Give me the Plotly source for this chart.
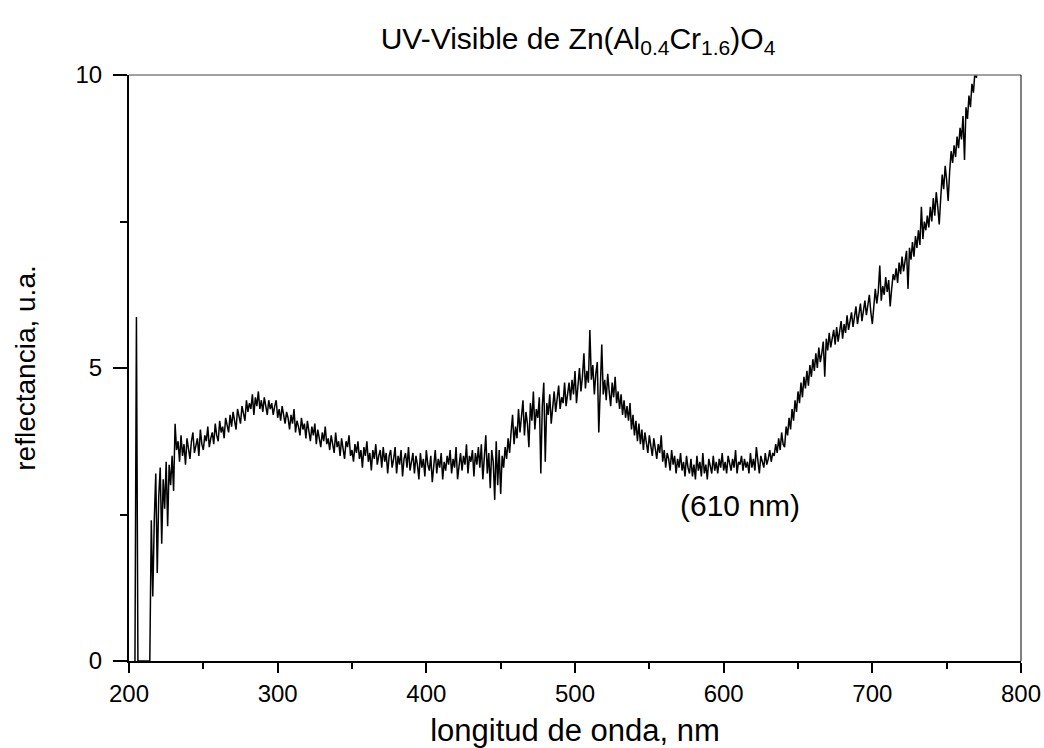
import plotly.graph_objects as go

### data: UV-Vis diffuse reflectance, Zn(Al0.4Cr1.6)O4
# first few points: detector spikes before the real spectrum starts
wl_head = [204, 205, 206, 214, 215]
refl_head = [0.0, 5.87, 0.0, 0.0, 2.4]

# main spectrum, read every 1 nm from 216 nm to 774 nm
wl_main = list(range(216, 775))
refl_main = [
    1.1, 2.4, 3.2, 1.5, 2.8, 3.3, 2.0, 3.1, 2.6, 3.4, 2.3, 3.35, 3.0, 3.5, 2.9, 4.05, 3.6, 3.75, 3.4, 3.85,  # 216
    3.5, 3.7, 3.35, 3.8, 3.6, 3.45, 3.75, 3.9, 3.55, 3.65, 3.8, 3.5, 3.95, 3.7, 3.6, 3.85, 3.75, 4.0, 3.65, 3.8,  # 236
    3.9, 3.7, 4.05, 3.85, 3.75, 4.1, 3.9, 4.0, 3.8, 4.15, 4.05, 3.9, 4.2, 4.0, 4.25, 4.1, 3.95, 4.3, 4.15, 4.05,  # 256
    4.35, 4.2, 4.1, 4.45, 4.25, 4.4, 4.3, 4.55, 4.2, 4.5, 4.35, 4.6, 4.3, 4.45, 4.25, 4.5, 4.35, 4.2, 4.45, 4.3,  # 276
    4.4, 4.2, 4.35, 4.45, 4.15, 4.3, 4.1, 4.35, 4.2, 4.05, 4.25, 4.15, 3.95, 4.2, 4.05, 4.3, 3.9, 4.1, 4.0, 3.85,  # 296
    4.15, 3.95, 4.05, 3.8, 4.1, 3.9, 3.75, 4.0, 3.85, 4.05, 3.7, 3.95, 3.8, 3.65, 3.9, 3.75, 4.0, 3.7, 3.8, 3.6,  # 316
    3.85, 3.7, 3.55, 3.9, 3.65, 3.75, 3.5, 3.8, 3.6, 3.45, 3.75, 3.65, 3.85, 3.5, 3.6, 3.4, 3.7, 3.55, 3.75, 3.45,  # 336
    3.6, 3.3, 3.65, 3.5, 3.75, 3.4, 3.55, 3.25, 3.6, 3.45, 3.7, 3.35, 3.5, 3.6, 3.3, 3.65, 3.4, 3.55, 3.2, 3.5,  # 356
    3.6, 3.3, 3.45, 3.65, 3.2, 3.5, 3.35, 3.6, 3.15, 3.45, 3.55, 3.3, 3.65, 3.25, 3.4, 3.55, 3.2, 3.5, 3.35, 3.1,  # 376
    3.55, 3.3, 3.45, 3.15, 3.6, 3.35, 3.25, 3.5, 3.05, 3.4, 3.6, 3.2, 3.45, 3.3, 3.55, 3.1, 3.4, 3.25, 3.5, 3.35,  # 396
    3.6, 3.2, 3.45, 3.3, 3.65, 3.1, 3.4, 3.55, 3.25, 3.5, 3.35, 3.7, 3.2, 3.5, 3.4, 3.6, 3.15, 3.55, 3.35, 3.65,  # 416
    3.3, 3.7, 3.1, 3.5, 3.85, 3.2, 3.55, 2.95, 3.6, 3.4, 2.75, 3.75, 3.0, 3.6, 2.85, 3.5, 3.3, 3.65, 3.45, 3.8,  # 436
    3.55, 3.9, 4.2, 3.7, 4.0, 3.8, 4.3, 3.9, 4.15, 4.45, 3.85, 4.25, 4.05, 3.65, 4.4, 4.1, 4.6, 3.95, 4.3, 4.15,  # 456
    4.5, 3.2, 4.35, 4.75, 3.4, 4.4, 4.2, 4.55, 4.05, 4.3, 4.6, 4.25, 4.45, 4.7, 4.3, 4.5, 4.4, 4.75, 4.35, 4.6,  # 476
    4.75, 4.45, 4.8, 4.55, 4.95, 4.4, 4.7, 5.0, 4.6, 4.85, 5.25, 4.65, 4.95, 4.75, 5.65, 4.8, 5.05, 4.55, 4.9, 5.1,  # 496
    3.9, 4.7, 5.4, 4.55, 4.8, 4.45, 4.9, 4.6, 4.35, 4.75, 4.5, 4.85, 4.4, 4.6, 4.3, 4.55, 4.2, 4.45, 4.15, 4.35,  # 516
    4.1, 4.4, 3.95, 4.2, 3.85, 4.1, 3.75, 4.05, 3.7, 3.95, 3.6, 3.9, 3.75, 3.55, 3.85, 3.65, 3.5, 3.8, 3.6, 3.45,  # 536
    3.7, 3.55, 3.85, 3.4, 3.6, 3.3, 3.55, 3.45, 3.25, 3.6, 3.35, 3.5, 3.2, 3.45, 3.3, 3.55, 3.25, 3.4, 3.15, 3.5,  # 556
    3.3, 3.2, 3.45, 3.15, 3.35, 3.1, 3.5, 3.25, 3.4, 3.15, 3.55, 3.2, 3.35, 3.1, 3.45, 3.3, 3.2, 3.5, 3.25, 3.4,  # 576
    3.2, 3.45, 3.3, 3.55, 3.25, 3.4, 3.2, 3.5, 3.35, 3.25, 3.45, 3.3, 3.6, 3.2, 3.4, 3.35, 3.5, 3.25, 3.45, 3.3,  # 596
    3.4, 3.2, 3.55, 3.3, 3.45, 3.25, 3.65, 3.35, 3.2, 3.5, 3.4, 3.3, 3.55, 3.35, 3.45, 3.6, 3.4, 3.55, 3.5, 3.7,  # 616
    3.55, 3.8, 3.6, 3.9, 3.7, 3.65, 4.0, 3.85, 4.15, 3.95, 4.3, 4.1, 4.45, 4.25, 4.6, 4.4, 4.75, 4.5, 4.85, 4.65,  # 636
    4.95, 4.7, 5.05, 4.85, 5.15, 4.95, 5.25, 5.0, 5.35, 5.1, 5.25, 5.45, 4.85, 5.5, 5.3, 5.6, 5.35, 5.5, 5.65, 5.4,  # 656
    5.7, 5.45, 5.65, 5.8, 5.5, 5.75, 5.6, 5.9, 5.65, 5.8, 5.95, 5.7, 5.85, 6.05, 5.75, 5.95, 6.1, 5.8, 6.0, 6.15,  # 676
    5.9, 6.1, 6.25, 5.95, 5.75, 6.05, 6.35, 6.1, 6.3, 6.75, 6.15, 6.4, 6.25, 6.55, 6.3, 6.5, 6.05, 6.35, 6.6, 6.5,  # 696
    6.7, 6.45, 6.8, 6.6, 6.9, 6.65, 6.85, 7.0, 6.35, 7.05, 6.85, 7.15, 6.9, 7.25, 7.05, 7.35, 7.1, 7.75, 7.2, 7.5,  # 716
    7.35, 7.6, 7.4, 7.75, 7.5, 7.9, 7.6, 8.0, 7.75, 7.45, 7.9, 8.3, 8.05, 8.45, 8.2, 7.85, 8.35, 8.7, 8.5, 8.8,  # 736
    8.6, 8.95, 8.75, 9.1, 8.9, 9.3, 8.55, 9.45, 9.25, 9.65, 9.45, 9.85, 9.7, 10.05, 9.95, 10.2, 10.1, 10.4, 10.5,  # 756
]

wl = wl_head + wl_main
refl = refl_head + refl_main

x_ticks = [200, 300, 400, 500, 600, 700, 800]
y_ticks = [0, 5, 10]

my_font = dict(family="Liberation Sans, Arial, sans-serif", size=24, color="black")

fig = go.Figure()
fig.add_trace(go.Scatter(x=wl, y=refl, mode="lines",
                         line=dict(color="black", width=1.5), showlegend=False))

# thin frame on top / right like the origin export
fig.add_shape(type="line", xref="paper", yref="paper", x0=0, x1=1, y0=1, y1=1,
              line=dict(color="#808080", width=1.5))
fig.add_shape(type="line", xref="paper", yref="paper", x0=1, x1=1, y0=0, y1=1,
              line=dict(color="black", width=1))

fig.add_annotation(x=611, y=2.66, text="(610 nm)", showarrow=False,
                   font=dict(size=30, color="black"))

fig.update_layout(
    title=dict(text="UV-Visible de Zn(Al<sub>0.4</sub>Cr<sub>1.6</sub>)O<sub>4</sub>",
               x=578 / 1044, xanchor="center", y=1 - 38 / 748, yanchor="middle",
               font=dict(size=30)),
    font=my_font,
    width=1044, height=748,
    paper_bgcolor="white", plot_bgcolor="white",
    margin=dict(l=129, r=23, t=75, b=87),
    xaxis=dict(range=[200, 800], tickvals=x_ticks, ticks="outside", ticklen=10,
               tickwidth=2, tickcolor="black", showline=True, linewidth=2,
               linecolor="black", showgrid=False, zeroline=False,
               ticklabeloverflow="allow", automargin=False,
               minor=dict(dtick=50, ticks="outside", ticklen=6, tickwidth=2,
                          tickcolor="black", showgrid=False),
               title=dict(text="longitud de onda, nm", font=dict(size=31), standoff=17)),
    yaxis=dict(range=[0, 10], tickvals=y_ticks, ticks="outside", ticklen=14,
               tickwidth=2, tickcolor="black", showline=True, linewidth=2,
               linecolor="black", showgrid=False, zeroline=False,
               ticklabelstandoff=6, automargin=False,
               minor=dict(dtick=2.5, ticks="outside", ticklen=7, tickwidth=2,
                          tickcolor="black", showgrid=False),
               title=dict(text="reflectancia, u.a.", font=dict(size=28), standoff=32)),
)

# drop the default 8px page margin so the figure fills the window exactly
fig.write_html("out.html", config={"displayModeBar": False},
               post_script="document.body.style.margin = '0';")
